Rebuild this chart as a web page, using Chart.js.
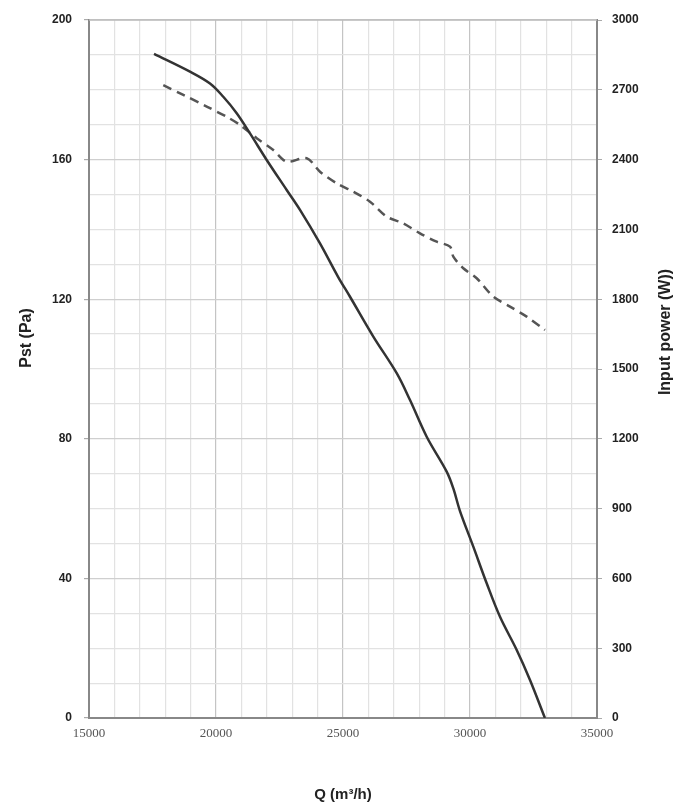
<!DOCTYPE html>
<html>
<head>
<meta charset="utf-8">
<script src="https://cdn.jsdelivr.net/npm/chart.js@4"></script>
<style>
  html, body { margin: 0; padding: 0; background: #fff; }
  canvas { display: block; }
</style>
</head>
<body>
<canvas id="fanChart" width="700" height="810"></canvas>
<script>
// airflow Q (m³/h) vs static pressure Pst (Pa)
const qPst = [17560, 18976, 19764, 20287, 20815, 21339, 21996, 22783, 23307, 24094, 24800, 25276, 26193, 27114, 27638, 28295, 29082, 29343, 29606, 30130, 30657, 31181, 31839, 32362, 32950];
const pst = [190.3, 185.2, 181.8, 178.0, 173.3, 167.5, 159.9, 151.3, 145.6, 136.0, 126.5, 120.7, 109.3, 98.8, 91.1, 80.6, 70.6, 65.8, 59.3, 49.1, 38.6, 29.0, 19.5, 10.9, 0];

// airflow Q (m³/h) vs input power (W)
const qPower = [17925, 18713, 19634, 20421, 20945, 21602, 22256, 22783, 23570, 24094, 24752, 25405, 26063, 26720, 27374, 28031, 28689, 29213, 29343, 29736, 30264, 30917, 31575, 32232, 32950];
const power = [2720, 2678, 2628, 2584, 2549, 2492, 2441, 2391, 2406, 2348, 2298, 2262, 2219, 2155, 2126, 2083, 2047, 2026, 1983, 1933, 1890, 1811, 1768, 1725, 1668];

const xTicks = [15000, 20000, 25000, 30000, 35000];
const pstTicks = [0, 40, 80, 120, 160, 200];
const powerTicks = [0, 300, 600, 900, 1200, 1500, 1800, 2100, 2400, 2700, 3000];

const toPoints = (xs, ys) => xs.map((x, i) => ({ x, y: ys[i] }));
const titleFont = 'bold 16px "Liberation Sans"';

const ctx = document.getElementById('fanChart').getContext('2d');
new Chart(ctx, {
  type: 'scatter',
  data: {
    datasets: [{
      label: 'Pst',
      data: toPoints(qPst, pst),
      yAxisID: 'y',
      showLine: true,
      borderColor: '#333',
      borderWidth: 2.5,
      pointRadius: 0,
      tension: 0.35
    }, {
      label: 'Input power',
      data: toPoints(qPower, power),
      yAxisID: 'y1',
      showLine: true,
      borderColor: '#555',
      borderWidth: 2.5,
      borderDash: [9, 6],
      pointRadius: 0,
      tension: 0.3
    }]
  },
  options: {
    responsive: false,
    devicePixelRatio: 1,
    animation: false,
    layout: { padding: { top: 20, left: 0, right: 0, bottom: 0 } },
    plugins: { legend: { display: false }, tooltip: { enabled: false } },
    scales: {
      x: {
        type: 'linear',
        min: 15000,
        max: 35000,
        afterBuildTicks: s => { s.ticks = []; for (let v = 15000; v <= 35000; v += 1000) s.ticks.push({ value: v }); },
        afterFit: s => { s.height = 92; },
        ticks: {
          padding: 8,
          maxRotation: 0,
          autoSkip: false,
          color: '#555',
          font: { family: 'Liberation Serif', size: 13 },
          callback: v => xTicks.includes(v) ? String(v) : ''
        },
        grid: {
          color: c => c.tick && c.tick.value % 5000 === 0 ? '#c4c4c4' : '#e2e2e2',
          lineWidth: 1.2,
          drawTicks: false
        },
        border: { color: '#888', width: 2 },
        title: {
          display: true,
          text: 'Q (m³/h)',
          color: '#222',
          font: { family: 'Liberation Sans', size: 15, weight: 'bold' },
          padding: { top: 0, bottom: 6 }
        }
      },
      y: {
        position: 'left',
        min: 0,
        max: 200,
        afterBuildTicks: s => { s.ticks = []; for (let v = 0; v <= 200; v += 10) s.ticks.push({ value: v }); },
        afterFit: s => { s.width = 89; },
        ticks: {
          padding: 12,
          autoSkip: false,
          color: '#222',
          font: { family: 'Liberation Sans', size: 12, weight: 'bold' },
          callback: v => pstTicks.includes(v) ? String(v) : ''
        },
        grid: {
          color: c => c.tick && c.tick.value % 40 === 0 ? '#cfcfcf' : '#e2e2e2',
          lineWidth: 1.2,
          tickLength: 5,
          tickColor: c => c.tick && c.tick.value % 40 === 0 ? '#aaa' : 'rgba(0,0,0,0)'
        },
        border: { color: '#888', width: 2 }
      },
      y1: {
        position: 'right',
        min: 0,
        max: 3000,
        afterBuildTicks: s => { s.ticks = powerTicks.map(v => ({ value: v })); },
        afterFit: s => { s.width = 103; },
        ticks: {
          padding: 10,
          autoSkip: false,
          color: '#222',
          font: { family: 'Liberation Sans', size: 12, weight: 'bold' },
          callback: v => String(v)
        },
        grid: {
          drawOnChartArea: false,
          tickLength: 5,
          tickColor: '#aaa'
        },
        border: { color: '#888', width: 2 }
      }
    }
  },
  plugins: [{
    id: 'frameAndTitles',
    afterDraw(chart) {
      const a = chart.chartArea, c = chart.ctx;
      c.save();
      c.strokeStyle = '#bbb';
      c.lineWidth = 1.5;
      c.beginPath();
      c.moveTo(a.left, a.top);
      c.lineTo(a.right, a.top);
      c.stroke();

      // both y titles read bottom-to-top
      c.fillStyle = '#222';
      c.font = titleFont;
      c.textAlign = 'center';
      c.textBaseline = 'middle';
      c.translate(27, 338);
      c.rotate(-Math.PI / 2);
      c.fillText('Pst (Pa)', 0, 0);
      c.restore();

      c.save();
      c.fillStyle = '#222';
      c.font = titleFont;
      c.textAlign = 'center';
      c.textBaseline = 'middle';
      c.translate(666, 332);
      c.rotate(-Math.PI / 2);
      c.fillText('Input power (W))', 0, 0);
      c.restore();
    }
  }]
});
</script>
</body>
</html>
